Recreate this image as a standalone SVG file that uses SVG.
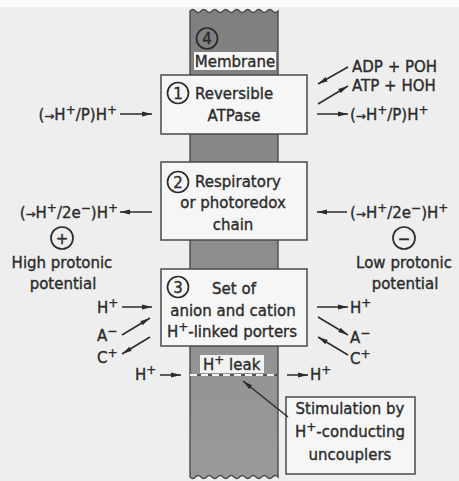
<svg xmlns="http://www.w3.org/2000/svg" width="459" height="481" viewBox="0 0 459 481">
<defs>
<style>
text{font-family:"DejaVu Sans","Liberation Sans",sans-serif;font-size:15px;fill:#2b2b2b;stroke:#2b2b2b;stroke-width:0.35}
.m{text-anchor:middle}
.e{text-anchor:end}
.sup{font-size:12px}
.ar{font-size:12px}
.num{font-size:15px;text-anchor:middle}
.box{fill:#f6f6f6;stroke:#4a4a4a;stroke-width:1.5}
.circ{fill:none;stroke:#2b2b2b;stroke-width:1.7}
.conn line{stroke:#2b2b2b;stroke-width:1.5;marker-end:url(#ah)}
</style>
<marker id="ah" viewBox="0 0 10 6" refX="10" refY="3" markerWidth="10" markerHeight="6" markerUnits="userSpaceOnUse" orient="auto">
<path d="M0,0.6 L10,3 L0,5.4 z" fill="#2b2b2b"/>
</marker>
<linearGradient id="mg" x1="0" y1="0" x2="0" y2="1">
<stop offset="0" stop-color="#7f7f7f"/>
<stop offset="1" stop-color="#9a9a9a"/>
</linearGradient>
</defs>
<rect x="0" y="0" width="459" height="481" fill="#eeeeee"/>
<rect x="0" y="0" width="459" height="7" fill="#fbfbfb"/>

<g id="membrane">
<path d="M190,477 L190,11 Q192.75,8 195.5,11 T201,11 T206.5,11 T212,11 T217.5,11 T223,11 T228.5,11 T234,11 T239.5,11 T245,11 T250.5,11 T256,11 T261.5,11 T267,11 T272.5,11 T278,11 L278,477 Q275.25,474 272.5,477 T267,477 T261.5,477 T256,477 T250.5,477 T245,477 T239.5,477 T234,477 T228.5,477 T223,477 T217.5,477 T212,477 T206.5,477 T201,477 T195.5,477 T190,477 Z" fill="url(#mg)" stroke="#4a4a4a" stroke-width="1.4"/>
<circle class="circ" cx="207" cy="38.5" r="10.5"/>
<text class="num" x="207" y="44">4</text>
<rect x="194" y="52" width="82" height="18" fill="#f6f6f6"/>
<text class="m" x="235" y="67">Membrane</text>
</g>

<g id="atpase">
<rect class="box" x="161" y="75" width="146" height="59"/>
<circle class="circ" cx="178" cy="93" r="10.5"/>
<text class="num" x="178" y="98.5">1</text>
<text x="195" y="99">Reversible</text>
<text class="m" x="234" y="121">ATPase</text>
</g>

<g id="redox">
<rect class="box" x="161" y="162" width="146" height="78"/>
<circle class="circ" cx="178" cy="182" r="10.5"/>
<text class="num" x="178" y="187.5">2</text>
<text x="195" y="187">Respiratory</text>
<text class="m" x="233" y="208">or photoredox</text>
<text class="m" x="233" y="230">chain</text>
</g>

<g id="porters">
<rect class="box" x="161" y="269" width="146" height="77"/>
<circle class="circ" cx="178" cy="287" r="10.5"/>
<text class="num" x="178" y="292.5">3</text>
<text class="m" x="234" y="294">Set of</text>
<text class="m" x="233" y="316">anion and cation</text>
<text class="m" x="232" y="337">H<tspan class="sup" dy="-6">+</tspan><tspan dy="6">-linked porters</tspan></text>
</g>

<g id="leak">
<rect x="200" y="355" width="64" height="18" fill="#f2f2f2"/>
<text x="203" y="370">H<tspan class="sup" dy="-6">+</tspan><tspan dy="6"> leak</tspan></text>
<line x1="190" y1="375" x2="278" y2="375" stroke="#555" stroke-width="2"/>
<line x1="190" y1="375" x2="278" y2="375" stroke="#f4f4f4" stroke-width="2" stroke-dasharray="7,4"/>
</g>

<g id="uncouplers">
<rect class="box" x="286" y="397" width="129" height="77"/>
<text class="m" x="350" y="414">Stimulation by</text>
<text class="m" x="350" y="437">H<tspan class="sup" dy="-6">+</tspan><tspan dy="6">-conducting</tspan></text>
<text class="m" x="350" y="460">uncouplers</text>
</g>

<g id="high-potential">
<circle class="circ" cx="62" cy="238" r="11"/>
<text class="m" x="62" y="243.5" style="font-size:15px">+</text>
<text class="m" x="62" y="268">High protonic</text>
<text class="m" x="63" y="289">potential</text>
</g>

<g id="low-potential">
<circle class="circ" cx="404" cy="238" r="11"/>
<text class="m" x="404" y="243.5" style="font-size:15px">−</text>
<text class="m" x="404" y="268">Low protonic</text>
<text class="m" x="405" y="289">potential</text>
</g>

<g id="labels">
<text class="e" x="117" y="120">(<tspan class="ar">→</tspan>H<tspan class="sup" dy="-6">+</tspan><tspan dy="6">/P)H</tspan><tspan class="sup" dy="-6">+</tspan></text>
<text x="350" y="120">(<tspan class="ar">→</tspan>H<tspan class="sup" dy="-6">+</tspan><tspan dy="6">/P)H</tspan><tspan class="sup" dy="-6">+</tspan></text>
<text x="352" y="72">ADP + POH</text>
<text x="352" y="91">ATP + HOH</text>
<text class="e" x="118" y="218">(<tspan class="ar">→</tspan>H<tspan class="sup" dy="-6">+</tspan><tspan dy="6">/2e</tspan><tspan class="sup" dy="-6">−</tspan><tspan dy="6">)H</tspan><tspan class="sup" dy="-6">+</tspan></text>
<text x="350" y="218">(<tspan class="ar">→</tspan>H<tspan class="sup" dy="-6">+</tspan><tspan dy="6">/2e</tspan><tspan class="sup" dy="-6">−</tspan><tspan dy="6">)H</tspan><tspan class="sup" dy="-6">+</tspan></text>
<text x="97" y="313">H<tspan class="sup" dy="-6">+</tspan></text>
<text x="97" y="341">A<tspan class="sup" dy="-6">−</tspan></text>
<text x="97" y="363">C<tspan class="sup" dy="-6">+</tspan></text>
<text x="350" y="313">H<tspan class="sup" dy="-6">+</tspan></text>
<text x="350" y="343">A<tspan class="sup" dy="-6">−</tspan></text>
<text x="350" y="364">C<tspan class="sup" dy="-6">+</tspan></text>
<text x="135" y="380">H<tspan class="sup" dy="-6">+</tspan></text>
<text x="310" y="380">H<tspan class="sup" dy="-6">+</tspan></text>
</g>

<g id="connectors" class="conn">
<line x1="120" y1="114" x2="152" y2="114"/>
<line x1="317" y1="114" x2="348" y2="114"/>
<line x1="348" y1="67" x2="318" y2="84"/>
<line x1="318" y1="104" x2="348" y2="86"/>
<line x1="152" y1="212" x2="120" y2="212"/>
<line x1="347" y1="212" x2="317" y2="212"/>
<line x1="122" y1="307" x2="152" y2="307"/>
<line x1="122" y1="335" x2="150" y2="318"/>
<line x1="150" y1="337" x2="122" y2="354"/>
<line x1="317" y1="307" x2="348" y2="307"/>
<line x1="318" y1="317" x2="348" y2="335"/>
<line x1="348" y1="355" x2="318" y2="337"/>
<line x1="160" y1="375" x2="181" y2="375"/>
<line x1="287" y1="375" x2="308" y2="375"/>
<line x1="288" y1="417" x2="243" y2="381"/>
</g>
</svg>
